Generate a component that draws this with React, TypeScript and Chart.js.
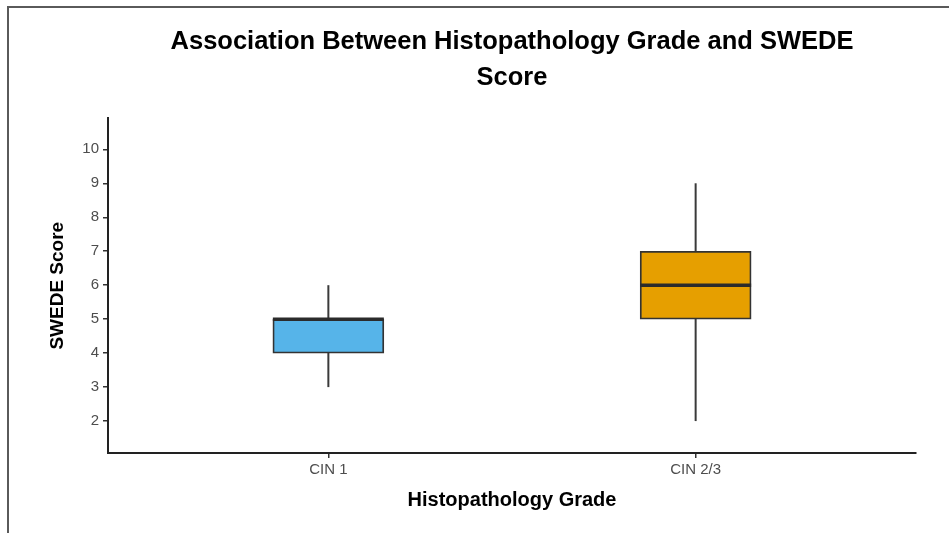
import React, { useEffect, useRef } from 'react';
import { Chart, registerables } from 'chart.js';

Chart.register(...registerables);

const categories = ['CIN 1', 'CIN 2/3'];
const whiskerLow = [3, 2];
const q1 = [4, 5];
const median = [5, 6];
const q3 = [5, 7];
const whiskerHigh = [6, 9];
const yTicks = [2, 3, 4, 5, 6, 7, 8, 9, 10];
const boxColors = ['#56B4E9', '#E69F00'];

const FONT = "'Liberation Sans', Arial, Helvetica, sans-serif";

const boxPlugin = {
  id: 'boxExtras',
  beforeDraw(chart: any) {
    const ctx = chart.ctx;
    ctx.save();
    ctx.strokeStyle = '#5a5a5a';
    ctx.lineWidth = 2;
    ctx.beginPath();
    ctx.moveTo(8, chart.height);
    ctx.lineTo(8, 7);
    ctx.lineTo(chart.width, 7);
    ctx.stroke();
    ctx.restore();
  },
  beforeDatasetsDraw(chart: any) {
    const ctx = chart.ctx;
    const y = chart.scales.y;
    const meta = chart.getDatasetMeta(0);
    ctx.save();
    ctx.strokeStyle = '#3a3a3a';
    ctx.lineWidth = 2;
    meta.data.forEach((el: any, i: number) => {
      ctx.beginPath();
      ctx.moveTo(el.x, y.getPixelForValue(whiskerLow[i]));
      ctx.lineTo(el.x, y.getPixelForValue(whiskerHigh[i]));
      ctx.stroke();
    });
    ctx.restore();
  },
  afterDatasetsDraw(chart: any) {
    const ctx = chart.ctx;
    const y = chart.scales.y;
    const meta = chart.getDatasetMeta(0);
    ctx.save();
    ctx.strokeStyle = '#2b2b2b';
    ctx.lineWidth = 3.5;
    meta.data.forEach((el: any, i: number) => {
      const py = y.getPixelForValue(median[i]);
      ctx.beginPath();
      ctx.moveTo(el.x - el.width / 2, py);
      ctx.lineTo(el.x + el.width / 2, py);
      ctx.stroke();
    });
    ctx.restore();
  },
};

export default function App() {
  const ref = useRef<HTMLCanvasElement>(null);
  useEffect(() => {
    if (!ref.current) return;
    const chart = new Chart(ref.current, {
      type: 'bar',
      data: {
        datasets: [
          {
            data: categories.map((c, i) => ({ x: i + 1, y: [q1[i], q3[i]] })) as any,
            backgroundColor: boxColors,
            borderColor: '#333333',
            borderWidth: 1.8,
            borderSkipped: false,
            barThickness: 111,
          },
        ],
      },
      options: {
        responsive: false,
        animation: false,
        layout: { padding: { left: 0, right: 33, top: 0, bottom: 0 } },
        plugins: {
          legend: { display: false },
          tooltip: { enabled: false },
          title: {
            display: true,
            fullSize: false,
            text: ['Association Between Histopathology Grade and SWEDE', 'Score'],
            color: '#000',
            font: { family: FONT, size: 25.5, weight: 'bold', lineHeight: 1.4 },
            padding: { top: 24, bottom: 23 },
          },
        },
        scales: {
          x: {
            type: 'linear',
            min: 0.4,
            max: 2.6,
            offset: false,
            afterBuildTicks: (s: any) => {
              s.ticks = categories.map((c, i) => ({ value: i + 1 }));
            },
            afterFit: (s: any) => {
              s.height = 80;
            },
            ticks: {
              callback: (v: any) => categories[Math.round(Number(v)) - 1] ?? '',
              color: '#4d4d4d',
              font: { family: FONT, size: 15 },
              padding: 3,
              maxRotation: 0,
            },
            grid: { offset: false, drawOnChartArea: false, drawTicks: true, tickLength: 5, color: '#333', lineWidth: 1.5 },
            border: { display: true, color: '#222', width: 2 },
            title: {
              display: true,
              text: 'Histopathology Grade',
              color: '#000',
              font: { family: FONT, size: 20, weight: 'bold' },
              padding: { top: 0, bottom: 21 },
            },
          },
          y: {
            type: 'linear',
            min: 1.06,
            max: 10.91,
            afterBuildTicks: (s: any) => {
              s.ticks = yTicks.map((v) => ({ value: v }));
            },
            afterFit: (s: any) => {
              s.width = 108;
            },
            ticks: {
              color: '#4d4d4d',
              font: { family: FONT, size: 15 },
              padding: 4,
            },
            grid: { drawOnChartArea: false, drawTicks: true, tickLength: 5, color: '#333', lineWidth: 1.5 },
            border: { display: true, color: '#222', width: 2 },
            title: {
              display: true,
              text: 'SWEDE Score',
              color: '#000',
              font: { family: FONT, size: 19, weight: 'bold' },
              padding: { top: 46, bottom: 0 },
            },
          },
        },
      },
      plugins: [boxPlugin],
    });
    return () => chart.destroy();
  }, []);
  return (
    <div style={{ position: 'fixed', left: 0, top: 0, width: 949, height: 533, background: '#fff' }}>
      <canvas ref={ref} width={949} height={533} style={{ display: 'block' }} />
    </div>
  );
}
